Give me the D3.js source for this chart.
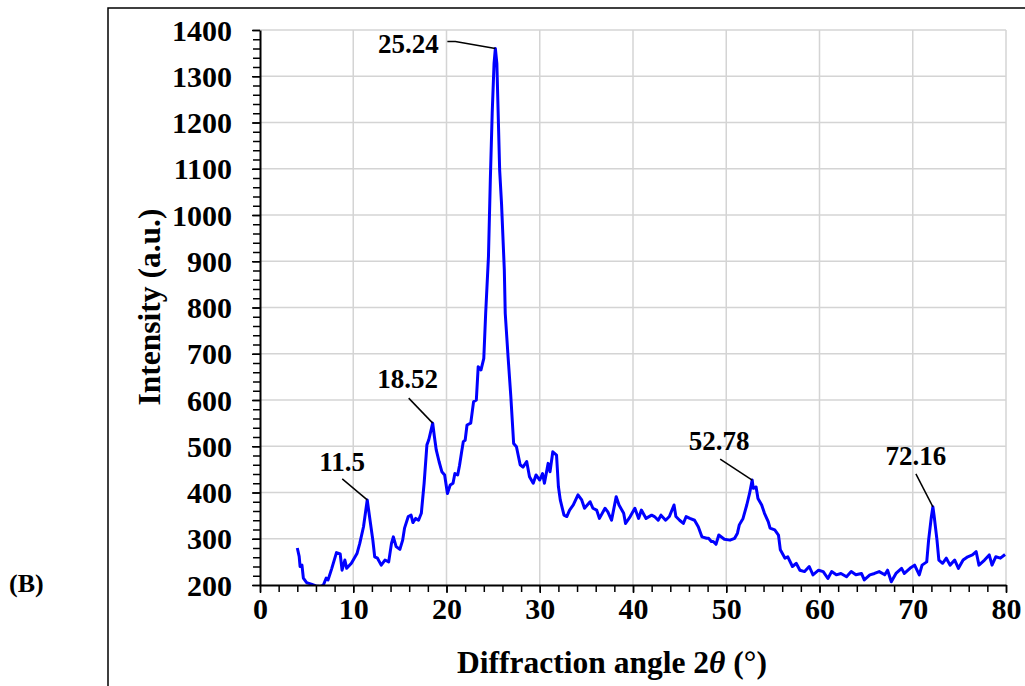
<!DOCTYPE html>
<html>
<head>
<meta charset="utf-8">
<script src="https://cdn.jsdelivr.net/npm/d3@7"></script>
<style>
  html, body { margin: 0; padding: 0; background: #fff; }
  svg { display: block; }
</style>
</head>
<body>
<svg id="chart" width="1025" height="686"></svg>
<script>
// ---- data ----
const angle = [4.0,4.2,4.3,4.5,4.65,5.0,5.5,6.0,6.5,6.8,7.1,7.3,7.7,8.2,8.6,8.8,9.1,9.3,9.8,10.4,10.7,11.1,11.5,11.8,12.1,12.3,12.6,13.0,13.4,13.8,14.1,14.3,14.6,15.0,15.3,15.5,15.9,16.2,16.4,16.7,17.0,17.3,17.6,17.9,18.1,18.52,18.7,18.9,19.2,19.5,19.8,20.1,20.4,20.7,20.9,21.2,21.4,21.6,21.8,22.0,22.2,22.6,22.9,23.2,23.4,23.7,24.0,24.2,24.5,24.7,24.9,25.1,25.24,25.4,25.7,25.9,26.2,26.3,26.6,26.9,27.2,27.5,27.9,28.2,28.6,28.9,29.3,29.6,30.0,30.3,30.5,30.9,31.1,31.4,31.8,32.0,32.2,32.6,32.9,33.2,33.6,34.1,34.5,34.8,35.4,35.7,36.1,36.4,37.0,37.3,37.7,38.2,38.5,39.0,39.2,39.7,40.2,40.6,40.9,41.4,42.0,42.3,42.7,43.0,43.5,43.9,44.4,44.6,45.0,45.4,45.7,46.1,46.6,47.0,47.4,47.9,48.1,48.4,48.6,48.9,49.2,49.8,50.4,50.9,51.2,51.4,51.8,52.2,52.5,52.78,52.9,53.2,53.4,53.8,54.1,54.5,54.7,55.2,55.6,55.8,56.3,56.6,57.1,57.5,57.9,58.4,58.9,59.3,59.9,60.4,60.9,61.3,61.8,62.3,62.9,63.4,63.9,64.5,64.8,65.4,65.9,66.4,67.0,67.3,67.7,68.2,68.8,69.1,69.7,70.2,70.7,71.0,71.5,71.7,72.0,72.16,72.3,72.6,72.8,73.2,73.6,74.0,74.5,74.9,75.4,75.9,76.4,76.8,77.1,77.7,78.2,78.5,78.9,79.4,79.9];
const intensity = [280,262,240,243,215,205,202,198,197,200,215,211,236,270,267,232,254,236,247,268,290,326,384,340,297,261,258,243,254,250,290,304,283,277,297,323,348,351,335,344,340,355,420,503,514,550,521,492,467,445,438,398,416,420,441,438,459,485,510,513,546,550,596,600,672,665,690,787,910,1076,1220,1328,1360,1328,1097,1025,881,787,694,607,506,499,460,455,467,434,420,438,427,441,420,463,445,488,481,413,384,351,348,362,373,395,384,366,380,366,362,344,366,358,340,391,373,355,333,348,366,344,362,344,351,348,340,351,340,348,373,348,340,333,348,344,340,326,304,301,301,294,294,288,308,299,297,301,312,330,344,373,398,427,409,412,387,373,355,337,323,319,308,276,258,261,240,247,232,229,240,222,232,229,214,229,222,225,218,229,222,225,211,222,225,229,222,232,207,225,236,225,236,243,222,243,250,297,348,369,348,297,254,247,258,243,254,236,254,261,265,272,243,254,265,243,261,258,266];
const peakAngles = [11.5, 18.52, 25.24, 52.78, 72.16];
const peakIntensity = [384, 550, 1360, 427, 369];
const peakLabels = ["11.5", "18.52", "25.24", "52.78", "72.16"];
const xTicks = [0,10,20,30,40,50,60,70,80];
const yTicks = [200,300,400,500,600,700,800,900,1000,1100,1200,1300,1400];
const xTitle = "Diffraction angle 2";
const xTitleSym = "θ";
const xTitleEnd = " (°)";
const yTitle = "Intensity (a.u.)";
const panelLabel = "(B)";

// ---- layout ----
const svg = d3.select("#chart");
const L = 260, R = 1006, T = 30, B = 585;
const x = d3.scaleLinear().domain([0, 80]).range([L, R]);
const y = d3.scaleLinear().domain([200, 1400]).range([B, T]);
const serif = "'Liberation Serif', 'Times New Roman', serif";

// outer frame
svg.append("path").attr("d", `M108,690 L108,8 L1030,8`)
  .attr("fill", "none").attr("stroke", "#000").attr("stroke-width", 1.5);

// gridlines
const grid = svg.append("g");
grid.selectAll(".hg").data(yTicks.slice(1)).join("line")
  .attr("x1", L).attr("x2", R).attr("y1", d => y(d)).attr("y2", d => y(d))
  .attr("stroke", "#d4d4d4").attr("stroke-width", 1.5);
grid.selectAll(".vg").data(xTicks.slice(1)).join("line")
  .attr("y1", T).attr("y2", B).attr("x1", d => x(d)).attr("x2", d => x(d))
  .attr("stroke", "#d4d4d4").attr("stroke-width", 1.5);

// minor ticks
const yMinor = d3.range(200, 1401, 20);
const xMinor = d3.range(0, 81, 2);
svg.append("g").attr("transform", `translate(${L},0)`)
  .call(d3.axisLeft(y).tickValues(yMinor).tickSize(7).tickFormat(""))
  .call(g => g.select(".domain").remove())
  .selectAll("line").attr("stroke-width", 1.5);
svg.append("g").attr("transform", `translate(0,${B})`)
  .call(d3.axisBottom(x).tickValues(xMinor).tickSize(7).tickFormat(""))
  .call(g => g.select(".domain").remove())
  .selectAll("line").attr("stroke-width", 1.5);

// clip
svg.append("clipPath").attr("id", "clip").append("rect")
  .attr("x", L).attr("y", T - 5).attr("width", R - L).attr("height", B - T + 5);

// series line
const pts = angle.map((a, i) => [a, intensity[i]]);
svg.append("path").datum(pts)
  .attr("clip-path", "url(#clip)")
  .attr("fill", "none").attr("stroke", "#0000ff").attr("stroke-width", 3)
  .attr("stroke-linejoin", "round")
  .attr("d", d3.line().x(d => x(d[0])).y(d => y(d[1])));

// main axes
const yAxis = svg.append("g").attr("transform", `translate(${L},0)`)
  .call(d3.axisLeft(y).tickValues(yTicks).tickFormat(d3.format("d"))
    .tickSize(8).tickPadding(20).tickSizeOuter(0));
yAxis.select(".domain").attr("stroke-width", 2);
yAxis.selectAll("line").attr("stroke-width", 1.5);
yAxis.selectAll("text").attr("font-family", serif).attr("font-weight", "bold")
  .attr("font-size", 30).attr("fill", "#000").attr("dy", "0.34em");

const xAxis = svg.append("g").attr("transform", `translate(0,${B})`)
  .call(d3.axisBottom(x).tickValues(xTicks).tickFormat(d3.format("d"))
    .tickSize(8).tickPadding(5).tickSizeOuter(0));
xAxis.select(".domain").attr("stroke-width", 2);
xAxis.selectAll("line").attr("stroke-width", 1.5);
xAxis.selectAll("text").attr("font-family", serif).attr("font-weight", "bold")
  .attr("font-size", 30).attr("fill", "#000");

// titles
const xt = svg.append("text").attr("x", 612).attr("y", 673)
  .attr("text-anchor", "middle").attr("font-family", serif).attr("font-weight", "bold")
  .attr("font-size", 31.5).attr("fill", "#000");
xt.append("tspan").text(xTitle);
xt.append("tspan").attr("font-style", "italic").text(xTitleSym);
xt.append("tspan").text(xTitleEnd);

svg.append("text").attr("transform", `translate(160,307) rotate(-90)`)
  .attr("text-anchor", "middle").attr("font-family", serif).attr("font-weight", "bold")
  .attr("font-size", 31.5).attr("fill", "#000").text(yTitle);

svg.append("text").attr("x", 9).attr("y", 592)
  .attr("font-family", serif).attr("font-weight", "bold")
  .attr("font-size", 26).attr("fill", "#000").text(panelLabel);

// peak annotations (offsets in px relative to peak point)
const labelOffsets = [
  {tx: -25, ty: -29, path: [[-25, -21]]},
  {tx: -25, ty: -35, path: [[-24, -25]]},
  {tx: -87, ty: 4,   path: [[-48, -7], [-40, -7]]},
  {tx: -33, ty: -30, path: [[-32, -21]]},
  {tx: -17, ty: -42, path: [[-17, -33]]}
];
peakAngles.forEach((a, i) => {
  const px = x(a), py = y(peakIntensity[i]);
  const o = labelOffsets[i];
  const linePts = o.path.map(p => [px + p[0], py + p[1]]).concat([[px, py]]);
  svg.append("path").attr("d", d3.line()(linePts))
    .attr("fill", "none").attr("stroke", "#000").attr("stroke-width", 1.5);
  svg.append("text").attr("x", px + o.tx).attr("y", py + o.ty)
    .attr("text-anchor", "middle").attr("font-family", serif).attr("font-weight", "bold")
    .attr("font-size", 27).attr("fill", "#000").text(peakLabels[i]);
});
</script>
</body>
</html>
